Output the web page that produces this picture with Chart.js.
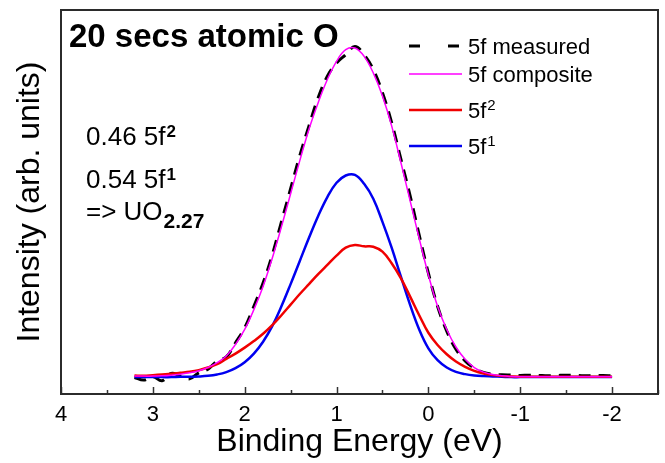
<!DOCTYPE html>
<html>
<head>
<meta charset="utf-8">
<script src="https://cdn.jsdelivr.net/npm/chart.js@4.4.0/dist/chart.umd.min.js"></script>
<style>
  html, body { margin: 0; padding: 0; background: #fff; }
  canvas { display: block; }
</style>
</head>
<body>
<canvas id="plot1" width="665" height="463"></canvas>
<script>
// Energía de enlace (eV), eje x invertido
let energia = [3.2, 3.1, 3.0, 2.9, 2.8, 2.7, 2.6, 2.5, 2.4, 2.3, 2.2, 2.1, 2.0, 1.9, 1.8, 1.7, 1.6, 1.5, 1.4, 1.3, 1.2, 1.1, 1.0, 0.9, 0.8, 0.7, 0.6, 0.5, 0.4, 0.3, 0.2, 0.1, 0.0,
  -0.1, -0.2, -0.3, -0.4, -0.5, -0.6, -0.7, -0.8, -0.9, -1.0, -1.1, -1.2, -1.3, -1.4, -1.5, -1.6, -1.7, -1.8, -1.9, -2.0];

// Intensidades (unidades arbitrarias)
let medido = [0.000, -0.008, 0.002, -0.010, 0.012, 0.004, -0.004, 0.014, 0.025, 0.050, 0.062, 0.105, 0.150, 0.215, 0.285, 0.370, 0.470, 0.570, 0.670, 0.760, 0.845, 0.910, 0.950, 0.975, 1.000, 0.975, 0.930, 0.860, 0.770, 0.660, 0.550, 0.430, 0.315,
  0.215, 0.140, 0.085, 0.050, 0.028, 0.015, 0.010, 0.008, 0.007, 0.006, 0.007, 0.006, 0.005, 0.006, 0.007, 0.006, 0.005, 0.006, 0.006, 0.005];
let compuesto = [0.004, 0.004, 0.004, 0.005, 0.007, 0.010, 0.014, 0.020, 0.030, 0.045, 0.065, 0.100, 0.145, 0.205, 0.275, 0.360, 0.455, 0.555, 0.655, 0.750, 0.830, 0.900, 0.955, 0.990, 0.995, 0.970, 0.920, 0.850, 0.760, 0.650, 0.535, 0.420, 0.310,
  0.215, 0.145, 0.092, 0.055, 0.030, 0.016, 0.009, 0.005, 0.003, 0.002, 0.002, 0.002, 0.002, 0.002, 0.002, 0.002, 0.002, 0.002, 0.002, 0.002];
let f2 = [0.006, 0.005, 0.007, 0.009, 0.011, 0.014, 0.017, 0.022, 0.030, 0.040, 0.056, 0.072, 0.090, 0.110, 0.132, 0.158, 0.188, 0.220, 0.252, 0.282, 0.312, 0.340, 0.368, 0.392, 0.400, 0.396, 0.395, 0.380, 0.345, 0.300, 0.245, 0.188, 0.135,
  0.098, 0.070, 0.048, 0.032, 0.020, 0.012, 0.007, 0.004, 0.003, 0.002, 0.002, 0.002, 0.002, 0.002, 0.002, 0.002, 0.002, 0.002, 0.002, 0.002];
let f1 = [0.001, 0.001, 0.001, 0.001, 0.001, 0.002, 0.002, 0.003, 0.005, 0.009, 0.016, 0.028, 0.046, 0.072, 0.108, 0.155, 0.215, 0.282, 0.352, 0.422, 0.488, 0.545, 0.588, 0.610, 0.612, 0.585, 0.540, 0.470, 0.392, 0.305, 0.220, 0.145, 0.088,
  0.052, 0.030, 0.017, 0.010, 0.006, 0.004, 0.003, 0.002, 0.001, 0.001, 0.001, 0.001, 0.001, 0.001, 0.001, 0.001, 0.001, 0.001, 0.001, 0.001];

let etiquetas = ['5f measured', '5f composite', '5f²', '5f¹'];
let ticksX = [4, 3, 2, 1, 0, -1, -2];
let titulo = '20 secs atomic O';
// Anotaciones: [texto normal, superíndice/subíndice, tipo]
let anotaciones = [
  ['0.46 5f', '2', 'sup'],
  ['0.54 5f', '1', 'sup'],
  ['=> UO', '2.27', 'sub']
];

let fuente = "'Liberation Sans', Arial, sans-serif";
Chart.defaults.font.family = fuente;
Chart.defaults.color = '#000';

let puntos = (serie) => energia.map((e, i) => ({ x: e, y: serie[i] }));

// Dibuja marco, marcas del eje, leyenda y textos
let extras = {
  id: 'extras',
  afterDraw: (chart) => {
    let ctx = chart.ctx;
    let area = chart.chartArea;
    let escalaX = chart.scales.x;
    ctx.save();

    //Marcas del eje x (hacia adentro)
    ctx.strokeStyle = '#333';
    ctx.lineWidth = 1.5;
    for (let v = -2.5; v <= 4; v += 0.5) {
      let px = Math.round(escalaX.getPixelForValue(v)) + 0.5;
      let largo = Number.isInteger(v) ? 7 : 4;
      ctx.beginPath();
      ctx.moveTo(px, area.bottom);
      ctx.lineTo(px, area.bottom - largo);
      ctx.stroke();
    }

    //Marco
    ctx.strokeStyle = '#2b2b2b';
    ctx.lineWidth = 2;
    ctx.strokeRect(area.left, area.top, area.right - area.left, area.bottom - area.top);

    //Título
    ctx.fillStyle = '#000';
    ctx.textBaseline = 'alphabetic';
    ctx.textAlign = 'left';
    ctx.font = 'bold 33px ' + fuente;
    ctx.fillText(titulo, 69, 47);

    //Anotaciones
    let filasY = [145, 188, 220];
    anotaciones.forEach((a, i) => {
      ctx.font = '26px ' + fuente;
      ctx.fillText(a[0], 86, filasY[i]);
      let ancho = ctx.measureText(a[0]).width;
      ctx.font = (a[2] === 'sup' ? 'bold 17px ' : 'bold 21px ') + fuente;
      ctx.fillText(a[1], 86 + ancho + 1, filasY[i] + (a[2] === 'sup' ? -8 : 8));
    });

    //Leyenda
    let lineasY = [46, 74, 110, 146];
    let textoY = [54, 82, 118, 154];
    chart.data.datasets.forEach((ds, i) => {
      ctx.strokeStyle = ds.borderColor;
      ctx.lineWidth = ds.borderWidth;
      ctx.setLineDash(ds.borderDash ? [11, 28] : []);
      ctx.beginPath();
      ctx.moveTo(409, lineasY[i]);
      ctx.lineTo(462, lineasY[i]);
      ctx.stroke();
      ctx.setLineDash([]);
      let etiqueta = ds.label;
      let sup = '';
      if (etiqueta.endsWith('²')) { sup = '2'; etiqueta = etiqueta.slice(0, -1); }
      if (etiqueta.endsWith('¹')) { sup = '1'; etiqueta = etiqueta.slice(0, -1); }
      ctx.font = '22px ' + fuente;
      ctx.fillText(etiqueta, 468, textoY[i]);
      if (sup) {
        let ancho = ctx.measureText(etiqueta).width;
        ctx.font = '15px ' + fuente;
        ctx.fillText(sup, 468 + ancho + 1, textoY[i] - 8);
      }
    });
    ctx.restore();
  }
};

let plotRef = document.getElementById('plot1');

let config = {
  type: 'line',
  data: {
    datasets: [
      {
        label: etiquetas[0],
        data: puntos(medido),
        borderColor: '#000',
        borderWidth: 3,
        borderDash: [12, 8],
        pointRadius: 0,
        tension: 0.4,
        order: 3
      },
      {
        label: etiquetas[1],
        data: puntos(compuesto),
        borderColor: '#ff00ff',
        borderWidth: 1.5,
        pointRadius: 0,
        tension: 0.4,
        order: 0
      },
      {
        label: etiquetas[2],
        data: puntos(f2),
        borderColor: '#f00000',
        borderWidth: 2.5,
        pointRadius: 0,
        tension: 0.4,
        order: 1
      },
      {
        label: etiquetas[3],
        data: puntos(f1),
        borderColor: '#0000f0',
        borderWidth: 2.5,
        pointRadius: 0,
        tension: 0.4,
        order: 2
      }
    ]
  },
  options: {
    responsive: false,
    animation: false,
    devicePixelRatio: 1,
    layout: { padding: { top: 10, right: 7, left: 0, bottom: 0 } },
    plugins: {
      legend: { display: false },
      tooltip: { enabled: false }
    },
    scales: {
      x: {
        type: 'linear',
        reverse: true,
        min: -2.5,
        max: 4,
        afterBuildTicks: (escala) => { escala.ticks = ticksX.map(v => ({ value: v })); },
        ticks: {
          includeBounds: false,
          font: { size: 22, family: fuente },
          color: '#000',
          padding: 8
        },
        grid: { display: false, drawTicks: false },
        border: { display: false },
        title: {
          display: true,
          text: 'Binding Energy (eV)',
          font: { size: 32, lineHeight: 1 },
          color: '#000',
          padding: { top: 0, bottom: 5 }
        },
        afterFit: (escala) => { escala.height = 69; }
      },
      y: {
        min: -0.05,
        max: 1.11,
        ticks: { display: false },
        grid: { display: false, drawTicks: false },
        border: { display: false },
        title: {
          display: true,
          text: 'Intensity (arb. units)',
          font: { size: 32, lineHeight: 1 },
          color: '#000',
          padding: { top: 14, bottom: 0 }
        },
        afterFit: (escala) => { escala.width = 61; }
      }
    }
  },
  plugins: [extras]
};

let chart1 = new Chart(plotRef, config);
</script>
</body>
</html>
